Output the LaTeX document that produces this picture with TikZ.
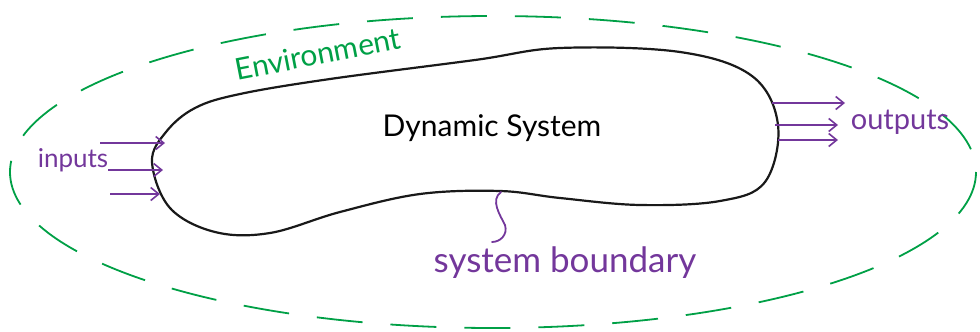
\documentclass[tikz,border=0pt]{standalone}
\usepackage{fontspec}
\setmainfont{Lato}
\usetikzlibrary{arrows.meta}
\definecolor{hpurple}{RGB}{115,55,155}
\definecolor{hgreen}{RGB}{0,160,70}
\tikzset{
  boundary/.style={line width=2.2pt, black!90},
  env/.style={line width=1.8pt, hgreen, dash pattern=on 46pt off 28pt},
  flow/.style={line width=1.8pt, hpurple, -{Straight Barb[length=8pt,width=13pt,line width=1.6pt]}},
  hlabel/.style={inner sep=0pt, font=\fontsize{25}{27}\selectfont}
}
\begin{document}
\begin{tikzpicture}[x=1pt,y=-1pt]
\useasboundingbox (0,0) rectangle (980,332);
% environment
\draw[env] (493,172) ellipse [x radius=483, y radius=156];
% system
\draw[boundary] plot[smooth cycle, tension=0.6] coordinates {
 (152,162) (166,132) (195,108) (240,94) (330,79) (475,60) (560,48) (680,52) (752,76)
 (778,125) (765,182) (720,201) (640,205) (560,198) (500,191) (420,194)
 (340,212) (270,233) (215,232) (170,208)};
\node[hlabel, font=\fontsize{30}{32}\selectfont] (sys) at (492,128) {Dynamic System};
\node[hlabel, hgreen, rotate=11, font=\fontsize{30}{32}\selectfont] (envl) at (318,54) {Environment};
% inputs
\node[hlabel, hpurple, font=\fontsize{26}{28}\selectfont] (inl) at (73,160) {inputs};
\coordinate (i1s) at (100,143); \coordinate (i1e) at (165,143);
\coordinate (i2s) at (108,170); \coordinate (i2e) at (163,170);
\coordinate (i3s) at (110,194); \coordinate (i3e) at (160,194);
\draw[flow] (i1s) -- (i1e);
\draw[flow] (i2s) -- (i2e);
\draw[flow] (i3s) -- (i3e);
% outputs
\node[hlabel, hpurple, font=\fontsize{29}{31}\selectfont] (outl) at (900,122) {outputs};
\coordinate (o1s) at (772,103); \coordinate (o1e) at (845,103);
\coordinate (o2s) at (775,125); \coordinate (o2e) at (838,125);
\coordinate (o3s) at (778,140); \coordinate (o3e) at (838,140);
\draw[flow] (o1s) -- (o1e);
\draw[flow] (o2s) -- (o2e);
\draw[flow] (o3s) -- (o3e);
% boundary label
\node[hlabel, hpurple, font=\fontsize{35}{37}\selectfont] (bl) at (565,263) {system boundary};
\coordinate (bp) at (501,192);
\coordinate (be) at (492,242);
\draw[line width=1.8pt, hpurple, line cap=round] (bp) .. controls (490,200) and (500,215) .. (505,225) .. controls (508,235) and (500,242) .. (be);
\end{tikzpicture}
\end{document}
